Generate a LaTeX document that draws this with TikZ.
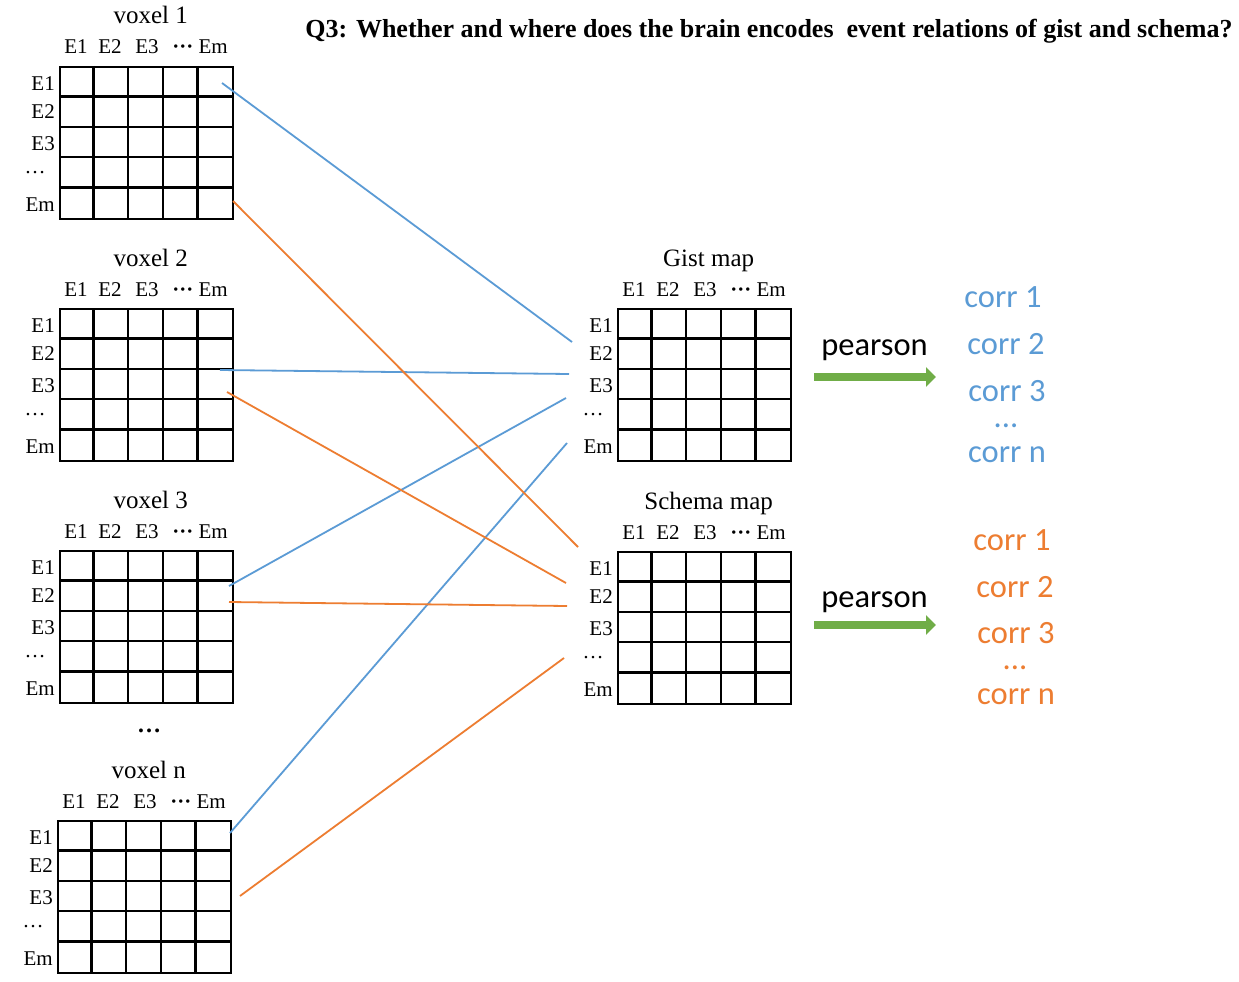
\documentclass[tikz,border=0pt]{standalone}
\usepackage{fontspec}
\setmainfont{Liberation Serif}
\newfontfamily\califont{Carlito}
\usetikzlibrary{calc,arrows.meta}
\definecolor{lblue}{RGB}{91,155,213}
\definecolor{lorange}{RGB}{237,125,49}
\definecolor{lgreen}{RGB}{112,173,71}
\tikzset{
  gridbox/.style={draw=black, line width=2.3pt, inner sep=0pt, minimum width=173pt, minimum height=152pt, anchor=north west},
  gridline/.style={draw=black, line width=2.3pt},
  glabel/.style={inner sep=0pt, font=\fontsize{21}{25}\selectfont},
  gtitle/.style={inner sep=0pt, anchor=base, font=\fontsize{25}{29}\selectfont},
  bluel/.style={draw=lblue, line width=1.8pt},
  orangel/.style={draw=lorange, line width=1.8pt},
  garrow/.style={draw=lgreen, line width=8pt, -{Triangle[length=10pt,width=19pt]}},
  pearsonlbl/.style={inner sep=0pt, anchor=base, font=\califont\fontsize{32.5}{36}\selectfont},
  corrb/.style={inner sep=0pt, text=lblue, font=\califont\fontsize{32.5}{36}\selectfont},
  corro/.style={inner sep=0pt, text=lorange, font=\califont\fontsize{32.5}{36}\selectfont},
}
\newcommand\egrid[4]{%
  \node[gridbox] (#1) at (#2,#3) {};
  \foreach \k in {1,2,3,4}{
    \draw[gridline] ($(#1.north west)+(\k*34.6,0)$) -- ($(#1.south west)+(\k*34.6,0)$);
    \draw[gridline] ($(#1.north west)+(0,\k*30.4)$) -- ($(#1.north east)+(0,\k*30.4)$);
  }
  \node[gtitle] (#1-t) at ($(#1.north)+(4,-42)$) {#4};
  \node[glabel, anchor=base] (#1-c1) at ($(#1.north west)+(17,-12)$) {E1};
  \node[glabel, anchor=base] (#1-c2) at ($(#1.north west)+(51,-12)$) {E2};
  \node[glabel, anchor=base] (#1-c3) at ($(#1.north west)+(88,-12)$) {E3};
  \node[glabel, anchor=base] (#1-c4) at ($(#1.north west)+(141,-12)$) {\textbf{···} Em};
  \node[glabel, anchor=base east] (#1-r1) at ($(#1.north west)+(-4,24)$) {E1};
  \node[glabel, anchor=base east] (#1-r2) at ($(#1.north west)+(-4,52)$) {E2};
  \node[glabel, anchor=base east] (#1-r3) at ($(#1.north west)+(-4,84)$) {E3};
  \node[glabel, anchor=base] (#1-r4) at ($(#1.north west)+(-24,107)$) {…};
  \node[glabel, anchor=base east] (#1-r5) at ($(#1.north west)+(-4,145)$) {Em};
}
\begin{document}
\begin{tikzpicture}[x=1pt,y=-1pt]
\useasboundingbox (0,0) rectangle (1239,982);
\fill[white] (0,0) rectangle (1239,982);

\node[inner sep=0pt, font=\fontsize{26}{30}\selectfont\bfseries] (title) at (769,31)
  {Q3: Whether and where does the brain encodes \ event relations of gist and schema?};

\egrid{v1}{59}{66}{voxel 1}
\egrid{v2}{59}{308}{voxel 2}
\egrid{v3}{59}{550}{voxel 3}
\egrid{vn}{57}{820}{voxel n}
\egrid{gist}{617}{308}{Gist map}
\egrid{schema}{617}{551}{Schema map}

\node[inner sep=0pt, anchor=base, font=\fontsize{24}{28}\selectfont\bfseries] (vdots) at (149,732) {…};

% connector end points
\coordinate (b1s) at (222,83);  \coordinate (b1e) at (572,342);
\coordinate (b2s) at (220,370); \coordinate (b2e) at (569,374);
\coordinate (b3s) at (229,586); \coordinate (b3e) at (566,398);
\coordinate (b4s) at (230,833); \coordinate (b4e) at (567,443);
\coordinate (o1s) at (233,201); \coordinate (o1e) at (578,547);
\coordinate (o2s) at (227,392); \coordinate (o2e) at (566,583);
\coordinate (o3s) at (229,602); \coordinate (o3e) at (567,606);
\coordinate (o4s) at (240,896); \coordinate (o4e) at (564,658);

\draw[bluel] (b1s) -- (b1e);
\draw[bluel] (b2s) -- (b2e);
\draw[bluel] (b3s) -- (b3e);
\draw[bluel] (b4s) -- (b4e);
\draw[orangel] (o1s) -- (o1e);
\draw[orangel] (o2s) -- (o2e);
\draw[orangel] (o3s) -- (o3e);
\draw[orangel] (o4s) -- (o4e);

% pearson arrows
\node[pearsonlbl] (p1) at (874.5,355) {pearson};
\node[pearsonlbl] (p2) at (874.5,607) {pearson};
\coordinate (a1s) at (814,377); \coordinate (a1e) at (936,377);
\coordinate (a2s) at (814,625); \coordinate (a2e) at (936,625);
\draw[garrow] (a1s) -- (a1e);
\draw[garrow] (a2s) -- (a2e);

% correlations
\node[corrb] (cb1) at (1003,297) {corr 1};
\node[corrb] (cb2) at (1006,344) {corr 2};
\node[corrb] (cb3) at (1007,391) {corr 3};
\node[corrb, anchor=base] (cb4) at (1006,427) {...};
\node[corrb] (cb5) at (1007,455) {corr n};

\node[corro] (co1) at (1012,540) {corr 1};
\node[corro] (co2) at (1015,587) {corr 2};
\node[corro] (co3) at (1016,633) {corr 3};
\node[corro, anchor=base] (co4) at (1015,669) {...};
\node[corro] (co5) at (1016,697) {corr n};
\end{tikzpicture}
\end{document}
